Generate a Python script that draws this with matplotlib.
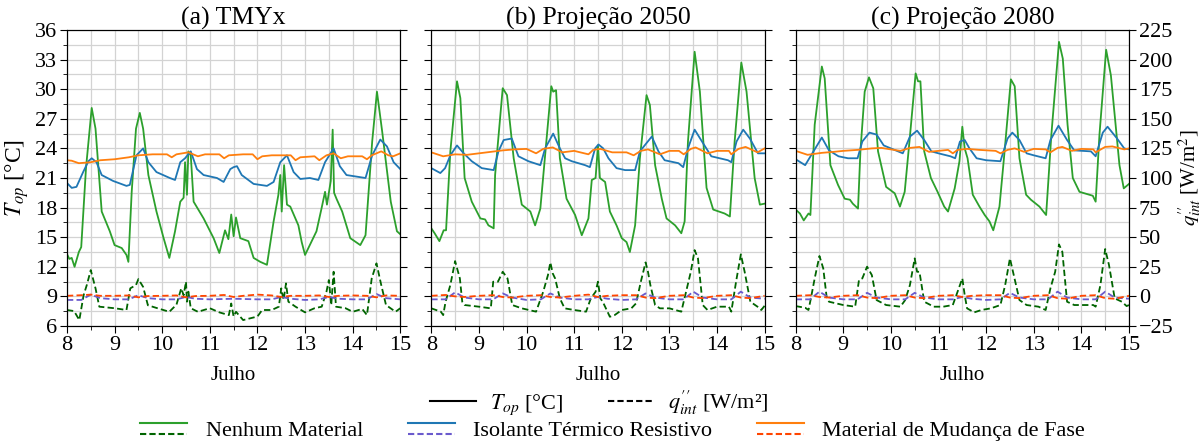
import matplotlib
matplotlib.use('Agg')
import matplotlib.pyplot as plt
from matplotlib.lines import Line2D
from matplotlib.legend_handler import HandlerBase
from matplotlib.ticker import MultipleLocator

plt.rcParams['font.family'] = ['Liberation Serif', 'DejaVu Serif']
plt.rcParams['mathtext.fontset'] = 'stix'

# ------------------------------------------------------------------ #
#  Data (day of July, value)                    #
# ------------------------------------------------------------------ #
panel_titles = ['(a) TMYx', '(b) Projeção 2050', '(c) Projeção 2080']
series_names = ['Nenhum Material', 'Isolante Térmico Resistivo', 'Material de Mudança de Fase']

# (a) TMYx -- operative temperature [°C]
a_nenhum_T = [(8.0, 13.3), (8.05, 12.8), (8.1, 12.9), (8.16, 12.0), (8.25, 13.5), (8.3, 14.0),
              (8.4, 22.0), (8.52, 28.1), (8.6, 26.0), (8.73, 17.6), (8.9, 15.6), (9.0, 14.2),
              (9.15, 13.9), (9.25, 13.2), (9.29, 12.5), (9.36, 19.6), (9.45, 26.0), (9.53, 27.6),
              (9.6, 26.0), (9.71, 21.3), (9.88, 17.6), (10.03, 14.9), (10.15, 12.9), (10.27, 15.6),
              (10.38, 18.6), (10.45, 19.0), (10.48, 22.6), (10.52, 19.3), (10.55, 23.7), (10.6, 23.3),
              (10.66, 18.6), (10.87, 16.9), (11.08, 14.9), (11.2, 13.4), (11.32, 15.7), (11.39, 14.8),
              (11.45, 17.3), (11.5, 15.1), (11.55, 17.0), (11.64, 14.9), (11.81, 14.6), (11.92, 12.9),
              (12.06, 12.5), (12.2, 12.2), (12.34, 16.6), (12.44, 19.3), (12.48, 21.3), (12.51, 17.6),
              (12.56, 22.3), (12.62, 18.3), (12.69, 18.1), (12.86, 16.2), (12.93, 14.5), (13.0, 13.2),
              (13.1, 14.2), (13.24, 15.6), (13.35, 18.0), (13.42, 19.6), (13.46, 18.3), (13.54, 20.7),
              (13.58, 25.9), (13.61, 19.5), (13.66, 18.9), (13.78, 17.6), (13.95, 14.9), (14.16, 14.2),
              (14.27, 15.2), (14.41, 24.7), (14.51, 29.75), (14.62, 25.7), (14.8, 18.6), (14.93, 15.6),
              (15.0, 15.3)]
a_isolante_T = [(8.0, 20.5), (8.1, 20.0), (8.2, 20.1), (8.34, 21.6), (8.45, 22.7), (8.52, 23.0),
                (8.62, 22.6), (8.73, 21.3), (8.97, 20.7), (9.25, 20.2), (9.32, 20.3), (9.46, 23.3),
                (9.6, 24.0), (9.71, 22.6), (9.88, 21.6), (10.16, 21.0), (10.27, 20.8), (10.38, 22.6),
                (10.48, 23.0), (10.6, 23.7), (10.73, 21.9), (10.87, 21.3), (11.15, 21.0), (11.29, 20.6),
                (11.43, 21.9), (11.5, 22.1), (11.57, 22.2), (11.67, 21.3), (11.92, 20.4), (12.2, 20.2),
                (12.34, 20.6), (12.48, 22.6), (12.62, 23.3), (12.76, 21.6), (12.9, 20.9), (13.1, 21.0),
                (13.28, 20.8), (13.42, 22.6), (13.6, 24.0), (13.73, 22.2), (13.87, 21.3), (14.27, 21.0),
                (14.41, 23.3), (14.58, 24.9), (14.72, 24.2), (14.86, 22.6), (15.0, 21.9)]
a_pcm_T = [(8.0, 22.8), (8.1, 22.75), (8.25, 22.5), (8.5, 22.6), (8.7, 22.8), (9.0, 22.9),
           (9.3, 23.1), (9.5, 23.3), (9.8, 23.4), (10.1, 23.4), (10.2, 23.1), (10.3, 23.4),
           (10.55, 23.6), (10.75, 23.2), (10.9, 23.4), (11.2, 23.4), (11.3, 23.0), (11.4, 23.3),
           (11.7, 23.4), (11.9, 23.4), (12.0, 22.9), (12.1, 23.2), (12.3, 23.3), (12.55, 23.3),
           (12.7, 23.3), (12.8, 22.8), (12.9, 23.1), (13.2, 23.2), (13.3, 22.8), (13.45, 23.3),
           (13.6, 23.5), (13.75, 23.0), (13.9, 23.2), (14.2, 23.2), (14.3, 22.9), (14.4, 23.3),
           (14.6, 23.7), (14.75, 23.3), (14.85, 23.2), (15.0, 23.5)]
# (a) TMYx -- internal heat flux [W/m²]
a_nenhum_q = [(8.0, -11.5), (8.15, -12.4), (8.26, -20.0), (8.35, 1.0), (8.42, 10.0), (8.5, 22.2),
              (8.6, 6.8), (8.68, -8.7), (9.0, -10.0), (9.25, -11.5), (9.33, 6.8), (9.45, 9.6),
              (9.5, 14.6), (9.6, 8.0), (9.7, -7.5), (9.9, -10.0), (10.15, -13.0), (10.3, -7.0),
              (10.4, 6.8), (10.45, 1.0), (10.5, 12.4), (10.52, -4.5), (10.55, 4.0), (10.6, -10.0),
              (10.75, -13.0), (11.0, -10.0), (11.2, -13.5), (11.4, -15.8), (11.45, -6.0), (11.5, -17.0),
              (11.55, -13.0), (11.7, -20.0), (12.0, -17.0), (12.1, -11.5), (12.3, -11.5), (12.45, -8.7),
              (12.5, 6.8), (12.55, -3.0), (12.6, 11.0), (12.65, -4.5), (12.8, -8.7), (13.0, -13.5),
              (13.2, -10.0), (13.35, -8.7), (13.45, 4.0), (13.5, 13.8), (13.55, -7.3), (13.6, 20.8),
              (13.65, -8.7), (13.85, -10.0), (14.0, -13.0), (14.2, -10.6), (14.3, -15.8), (14.4, 15.2),
              (14.5, 27.9), (14.6, 9.6), (14.7, -7.3), (14.9, -13.0), (15.0, -10.0)]
a_isolante_q = [(8.0, -3.0), (8.3, -3.0), (8.5, 1.5), (8.7, -1.5), (9.0, -2.5), (9.3, -2.5),
                (9.5, 1.0), (9.7, -1.5), (10.0, -2.5), (10.3, -2.5), (10.5, -0.5), (10.7, -2.0),
                (11.0, -2.5), (11.5, -2.0), (12.0, -2.5), (12.3, -2.5), (12.5, -0.5), (12.7, -2.0),
                (13.0, -3.0), (13.3, -2.5), (13.5, -0.5), (13.7, -2.0), (14.0, -2.5), (14.3, -2.5),
                (14.5, 2.0), (14.7, -1.5), (15.0, -2.5)]
a_pcm_q = [(8.0, 0.5), (8.3, 1.0), (8.5, 1.5), (8.7, 0.5), (9.0, 0.5), (9.3, 0.8), (9.5, -0.8),
           (9.7, 0.3), (10.0, 0.5), (10.3, 0.8), (10.5, -0.8), (10.7, 0.3), (11.0, 0.5), (11.3, 1.2),
           (11.5, -0.5), (11.7, 0.5), (12.0, 1.5), (12.3, 0.8), (12.5, -0.5), (12.7, 0.5), (13.0, 0.5),
           (13.3, 0.8), (13.5, -0.5), (13.7, 0.5), (14.0, 0.8), (14.3, 0.5), (14.5, -0.8), (14.7, 0.8),
           (15.0, 0.5)]

# (b) Projeção 2050
b_nenhum_T = [(8.0, 15.9), (8.07, 15.4), (8.17, 14.6), (8.26, 15.7), (8.31, 15.7), (8.4, 23.7),
              (8.54, 30.8), (8.61, 29.1), (8.7, 21.0), (8.85, 18.6), (9.03, 16.9), (9.13, 16.8),
              (9.2, 16.2), (9.31, 15.9), (9.34, 21.3), (9.5, 30.1), (9.59, 29.4), (9.73, 23.0),
              (9.9, 18.3), (10.08, 17.6), (10.18, 16.2), (10.29, 17.9), (10.39, 23.3), (10.52, 30.3),
              (10.56, 29.75), (10.62, 29.9), (10.7, 23.0), (10.84, 18.9), (11.02, 17.25), (11.16, 15.2),
              (11.3, 16.9), (11.37, 20.8), (11.45, 21.0), (11.5, 24.3), (11.54, 21.0), (11.65, 20.6),
              (11.75, 17.6), (11.89, 16.2), (12.0, 14.9), (12.1, 14.5), (12.17, 13.5), (12.28, 16.2),
              (12.38, 23.0), (12.52, 29.4), (12.59, 28.4), (12.7, 22.3), (12.84, 18.9), (12.94, 16.9),
              (13.12, 16.2), (13.25, 15.4), (13.32, 16.6), (13.39, 24.7), (13.53, 33.8), (13.64, 29.75),
              (13.78, 20.0), (13.92, 17.8), (14.16, 17.4), (14.27, 17.1), (14.37, 24.7), (14.51, 32.7),
              (14.62, 29.75), (14.79, 21.0), (14.9, 18.3), (15.0, 18.4)]
b_isolante_T = [(8.0, 22.0), (8.19, 21.5), (8.29, 22.0), (8.4, 23.3), (8.54, 24.3), (8.68, 23.5),
                (8.85, 22.7), (9.06, 22.0), (9.31, 21.8), (9.41, 23.7), (9.52, 24.85), (9.69, 25.0),
                (9.83, 23.2), (10.04, 22.7), (10.29, 22.3), (10.39, 24.0), (10.56, 25.5), (10.7, 24.0),
                (10.81, 23.0), (10.95, 22.7), (11.23, 22.3), (11.33, 22.1), (11.44, 24.0), (11.51, 24.4),
                (11.61, 24.0), (11.72, 23.0), (11.89, 22.0), (12.07, 21.8), (12.28, 21.8), (12.38, 23.7),
                (12.63, 25.2), (12.77, 23.7), (12.9, 22.8), (13.19, 22.5), (13.29, 22.1), (13.39, 24.0),
                (13.53, 25.9), (13.71, 24.5), (13.88, 23.2), (14.23, 22.8), (14.3, 22.6), (14.41, 24.7),
                (14.55, 25.9), (14.69, 25.0), (14.86, 23.5), (15.0, 23.5)]
b_pcm_T = [(8.0, 23.6), (8.25, 23.2), (8.5, 23.4), (8.75, 23.35), (9.0, 23.5), (9.5, 23.8),
           (9.75, 23.9), (10.0, 23.95), (10.2, 23.5), (10.35, 23.95), (10.55, 24.1), (10.75, 23.6),
           (11.0, 23.75), (11.3, 23.4), (11.4, 23.85), (11.55, 23.95), (11.8, 23.6), (12.1, 23.6),
           (12.25, 23.3), (12.4, 23.75), (12.55, 23.9), (12.8, 23.4), (13.0, 23.75), (13.2, 23.75),
           (13.3, 23.4), (13.45, 23.95), (13.55, 24.1), (13.8, 23.5), (14.0, 23.75), (14.25, 23.75),
           (14.3, 23.4), (14.45, 23.95), (14.6, 24.15), (14.85, 23.6), (15.0, 24.0)]
b_nenhum_q = [(8.0, -10.1), (8.2, -12.9), (8.25, -15.8), (8.3, -4.5), (8.4, 9.6), (8.5, 29.8),
              (8.6, 15.2), (8.65, -4.5), (8.7, -7.3), (9.0, -8.7), (9.25, -10.1), (9.3, 12.4),
              (9.4, 12.4), (9.5, 20.8), (9.6, 15.2), (9.7, -7.3), (9.9, -10.1), (10.2, -12.9),
              (10.35, 3.9), (10.45, 18.0), (10.5, 28.7), (10.55, 19.4), (10.6, 15.2), (10.7, -1.7),
              (10.8, -10.1), (11.0, -11.5), (11.25, -12.9), (11.35, -1.7), (11.45, 3.9), (11.5, 12.4),
              (11.55, -1.7), (11.6, -4.5), (11.75, -17.2), (11.85, -15.8), (12.0, -11.5), (12.2, -10.1),
              (12.3, -5.9), (12.4, 12.4), (12.5, 28.7), (12.55, 20.8), (12.6, 9.6), (12.7, -7.3),
              (12.8, -10.1), (13.0, -10.1), (13.25, -12.9), (13.35, 3.9), (13.45, 20.8), (13.53, 39.1),
              (13.6, 32.1), (13.7, -7.3), (13.8, -11.5), (14.0, -8.7), (14.25, -8.7), (14.3, -12.9),
              (14.4, 12.4), (14.5, 35.5), (14.58, 20.8), (14.7, -4.5), (14.85, -8.7), (14.93, -11.5),
              (15.0, -7.9)]
b_isolante_q = [(8.0, -2.5), (8.3, -2.5), (8.5, 3.4), (8.7, -1.0), (9.0, -2.5), (9.3, -2.5),
                (9.5, 2.5), (9.7, -1.0), (10.0, -3.0), (10.3, -2.5), (10.5, 2.5), (10.7, -1.0),
                (11.0, -2.5), (11.3, -2.5), (11.5, -0.5), (11.7, -2.0), (12.0, -3.0), (12.3, -2.5),
                (12.5, 2.5), (12.7, -1.0), (13.0, -2.5), (13.3, -2.5), (13.5, 4.0), (13.7, -1.0),
                (14.0, -2.5), (14.3, -2.5), (14.5, 4.0), (14.7, -1.0), (15.0, -2.0)]
b_pcm_q = [(8.0, 0.5), (8.3, 1.2), (8.5, 0.0), (8.7, -0.5), (9.0, 0.5), (9.3, 1.0), (9.5, -0.5),
           (9.7, -1.0), (10.0, 0.5), (10.3, 1.0), (10.5, -0.5), (10.7, -1.0), (11.0, 0.5), (11.3, 1.5),
           (11.5, -0.5), (11.7, 0.5), (12.0, 1.0), (12.3, 1.0), (12.5, -1.0), (12.7, -1.5), (13.0, 0.5),
           (13.3, 1.0), (13.5, -1.0), (13.7, -1.5), (14.0, 0.5), (14.3, 1.0), (14.5, -1.0), (14.7, -1.5),
           (15.0, 0.5)]

# (c) Projeção 2080
c_nenhum_T = [(8.0, 17.8), (8.09, 17.4), (8.17, 16.7), (8.27, 17.4), (8.31, 17.25), (8.4, 26.4),
              (8.55, 32.3), (8.61, 31.1), (8.73, 22.3), (8.89, 20.3), (9.03, 18.9), (9.14, 18.8),
              (9.2, 18.4), (9.31, 17.9), (9.36, 23.7), (9.45, 29.75), (9.54, 31.2), (9.63, 30.1),
              (9.73, 23.7), (9.9, 20.1), (10.08, 19.45), (10.19, 18.1), (10.29, 19.6), (10.39, 24.7),
              (10.52, 31.6), (10.57, 30.8), (10.62, 30.8), (10.7, 23.7), (10.84, 21.0), (10.98, 19.6),
              (11.12, 18.1), (11.2, 17.6), (11.34, 19.95), (11.44, 22.7), (11.5, 26.2), (11.55, 24.0),
              (11.61, 23.0), (11.72, 19.3), (11.86, 18.1), (11.97, 17.25), (12.07, 16.6), (12.15, 15.7),
              (12.28, 18.1), (12.38, 23.3), (12.52, 31.0), (12.6, 30.3), (12.7, 23.0), (12.84, 19.3),
              (12.94, 18.8), (13.12, 18.1), (13.26, 17.25), (13.37, 25.4), (13.53, 34.8), (13.61, 33.1),
              (13.71, 26.4), (13.82, 21.0), (13.96, 19.6), (14.24, 19.2), (14.3, 18.6), (14.38, 25.4),
              (14.52, 34.0), (14.62, 31.4), (14.8, 22.3), (14.89, 19.95), (15.0, 20.4)]
c_isolante_T = [(8.0, 22.9), (8.2, 22.3), (8.35, 23.5), (8.55, 25.1), (8.7, 23.8), (8.9, 23.2),
                (9.1, 23.0), (9.3, 23.0), (9.4, 24.7), (9.55, 25.6), (9.7, 25.4), (9.85, 24.3),
                (10.0, 24.0), (10.25, 23.5), (10.4, 25.2), (10.55, 25.8), (10.7, 24.85), (10.85, 23.7),
                (11.0, 23.5), (11.25, 23.2), (11.35, 23.0), (11.45, 24.7), (11.55, 24.85), (11.65, 24.0),
                (11.8, 23.0), (12.0, 22.8), (12.3, 22.7), (12.45, 25.0), (12.55, 25.6), (12.7, 24.85),
                (12.85, 23.5), (13.0, 23.3), (13.25, 23.0), (13.35, 24.85), (13.52, 26.3), (13.7, 24.85),
                (13.85, 23.8), (14.2, 23.7), (14.3, 23.2), (14.45, 25.6), (14.55, 26.2), (14.75, 25.0),
                (14.9, 24.0), (15.0, 23.9)]
c_pcm_T = [(8.0, 23.75), (8.25, 23.35), (8.55, 23.55), (8.8, 23.65), (9.0, 23.75), (9.3, 23.85),
           (9.6, 24.0), (9.8, 24.05), (10.2, 23.75), (10.4, 24.05), (10.6, 24.15), (10.8, 23.65),
           (11.2, 23.85), (11.3, 23.5), (11.4, 23.85), (11.6, 23.95), (11.85, 23.85), (12.2, 23.75),
           (12.3, 23.5), (12.45, 23.85), (12.6, 24.0), (12.8, 23.65), (13.0, 23.95), (13.25, 23.9),
           (13.35, 23.6), (13.5, 24.05), (13.6, 24.15), (13.8, 23.75), (14.0, 23.95), (14.25, 23.9),
           (14.3, 23.6), (14.5, 24.15), (14.65, 24.2), (14.9, 23.9), (15.0, 24.0)]
c_nenhum_q = [(8.0, -8.2), (8.2, -9.6), (8.27, -11.5), (8.32, -1.7), (8.4, 15.2), (8.5, 34.1),
              (8.58, 23.6), (8.65, -0.3), (8.7, -4.5), (9.0, -7.3), (9.25, -8.7), (9.33, 13.8),
              (9.4, 15.2), (9.5, 25.1), (9.6, 18.0), (9.7, -3.1), (9.9, -7.3), (10.2, -8.7),
              (10.3, -3.1), (10.4, 9.6), (10.5, 32.1), (10.55, 20.8), (10.6, 20.8), (10.7, -4.5),
              (10.9, -8.7), (11.1, -8.7), (11.3, -7.3), (11.4, 3.9), (11.5, 15.2), (11.55, 1.1),
              (11.6, -10.1), (11.75, -13.5), (11.9, -11.5), (12.1, -10.1), (12.3, -7.3), (12.4, 9.6),
              (12.5, 32.1), (12.58, 18.0), (12.7, -3.1), (12.85, -7.3), (13.1, -8.7), (13.25, -11.5),
              (13.35, 6.8), (13.45, 20.8), (13.53, 43.9), (13.6, 37.7), (13.7, -4.5), (13.85, -7.3),
              (14.0, -7.3), (14.25, -7.3), (14.3, -8.7), (14.4, 9.6), (14.5, 40.0), (14.58, 26.5),
              (14.7, -1.7), (14.85, -4.5), (14.95, -8.2), (15.0, -7.3)]
c_isolante_q = [(8.0, -2.5), (8.3, -2.5), (8.5, 4.0), (8.7, -1.0), (9.0, -2.5), (9.3, -2.5),
                (9.5, 3.0), (9.7, -1.0), (10.0, -2.5), (10.3, -2.5), (10.5, 3.0), (10.7, -1.0),
                (11.0, -2.5), (11.3, -2.5), (11.5, -0.5), (11.7, -2.0), (12.0, -3.0), (12.3, -2.5),
                (12.5, 3.0), (12.7, -1.0), (13.0, -2.5), (13.3, -2.5), (13.5, 4.0), (13.7, -1.0),
                (14.0, -2.5), (14.3, -2.5), (14.5, 4.0), (14.7, -1.0), (15.0, -2.0)]
c_pcm_q = [(8.0, 0.5), (8.3, 1.0), (8.5, -0.5), (8.7, -1.0), (9.0, 0.5), (9.3, 1.0), (9.5, -1.0),
           (9.7, -1.5), (10.0, 0.5), (10.3, 1.0), (10.5, -1.0), (10.7, -1.5), (11.0, 0.5), (11.3, 1.0),
           (11.5, -0.5), (11.7, 0.5), (12.0, 1.0), (12.3, 1.0), (12.5, -1.0), (12.7, -1.5), (13.0, 0.5),
           (13.3, 1.0), (13.5, -1.5), (13.7, -2.0), (14.0, 0.5), (14.3, 1.0), (14.5, -1.5), (14.7, -2.0),
           (15.0, 0.5)]

temps = [[a_nenhum_T, a_isolante_T, a_pcm_T],
         [b_nenhum_T, b_isolante_T, b_pcm_T],
         [c_nenhum_T, c_isolante_T, c_pcm_T]]
fluxes = [[a_nenhum_q, a_isolante_q, a_pcm_q],
          [b_nenhum_q, b_isolante_q, b_pcm_q],
          [c_nenhum_q, c_isolante_q, c_pcm_q]]

solid_colors = ['#2ca02c', '#1f77b4', '#ff7f0e']
dash_colors = ['#006400', '#6a5acd', '#ff4500']

Q_LABEL = r'$q^{\prime\prime}_{int}$'


class HandlerPair(HandlerBase):
    # solid line on top, dashed line below it
    def create_artists(self, legend, orig_handle, xdescent, ydescent,
                       width, height, fontsize, trans):
        solid, dashed = orig_handle
        x0, x1 = -xdescent, -xdescent + width
        ya = -ydescent + height * 0.85
        yb = -ydescent + height * 0.15
        l1 = Line2D([x0, x1], [ya, ya], color=solid.get_color(), lw=1.5, transform=trans)
        l2 = Line2D([x0, x1], [yb, yb], color=dashed.get_color(), lw=1.5,
                    ls=(0, (3, 1.5)), transform=trans)
        return [l1, l2]


def xy(pairs):
    return [p[0] for p in pairs], [p[1] for p in pairs]


fig = plt.figure(figsize=(12.04, 4.44), dpi=100)
fig.subplots_adjust(left=0.0556, right=0.9377, top=0.9324, bottom=0.2658, wspace=0.093)
axes = fig.subplots(1, 3, sharey=True)

pair_handles = []
for i, ax in enumerate(axes):
    ax2 = ax.twinx()
    for k in range(3):
        tx, ty = xy(temps[i][k])
        ls, = ax.plot(tx, ty, color=solid_colors[k], lw=1.3)
        qx, qy = xy(fluxes[i][k])
        ld, = ax2.plot(qx, qy, color=dash_colors[k], lw=1.3, ls=(0, (3.5, 1.8)))
        if i == 0:
            pair_handles.append((ls, ld))

    ax.set_xlim(8, 15)
    ax.set_ylim(6, 36)
    ax2.set_ylim(-25, 225)
    ax.xaxis.set_major_locator(MultipleLocator(1))
    ax.xaxis.set_minor_locator(MultipleLocator(0.5))
    ax.yaxis.set_major_locator(MultipleLocator(3))
    ax.yaxis.set_minor_locator(MultipleLocator(1.5))
    ax2.yaxis.set_major_locator(MultipleLocator(25))
    ax.grid(which='both', color='#d3d3d3', lw=0.9)
    ax.set_axisbelow(True)
    ax.tick_params(which='major', labelsize=16, length=5, pad=2)
    ax.tick_params(which='minor', length=3)
    ax2.tick_params(which='major', labelsize=16, length=5, pad=2)
    ax.set_title(panel_titles[i], fontsize=18.5, pad=4)
    ax.set_xlabel('Julho', fontsize=15, labelpad=8)
    if i < 2:
        ax2.tick_params(labelright=False)
    else:
        ax2.set_ylabel(Q_LABEL + r' [W/m$^2$]', fontsize=15, labelpad=2)

axes[0].set_ylabel(r'$T_{op}$ [°C]', fontsize=17, labelpad=3)

# legend: line style meaning
style_handles = [Line2D([], [], color='black', lw=1.5),
                 Line2D([], [], color='black', lw=1.5, ls=(0, (3, 1.5)))]
fig.legend(style_handles, [r'$T_{op}$ [°C]', Q_LABEL + ' [W/m²]'],
           loc='center', bbox_to_anchor=(0.4975, 0.092), ncol=2, frameon=False,
           fontsize=16, handlelength=2.1, columnspacing=2.0, handletextpad=0.6)
fig.legend(pair_handles, series_names, handler_map={tuple: HandlerPair()},
           loc='center', bbox_to_anchor=(0.509, 0.03), ncol=3, frameon=False,
           fontsize=16, handlelength=2.1, columnspacing=2.0, handletextpad=0.85)

fig.savefig('out.png', dpi=100)
